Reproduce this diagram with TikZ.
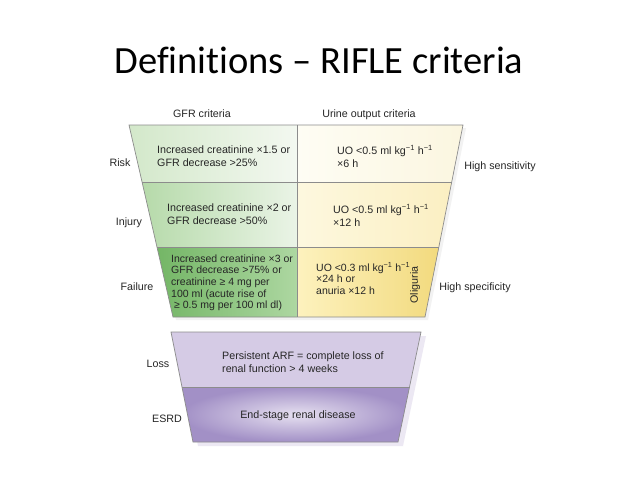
\documentclass[tikz,border=0pt]{standalone}
\usepackage{fontspec}
\setmainfont{Liberation Sans}
\newfontfamily\titlefont[Ligatures=NoCommon]{Carlito}
\usetikzlibrary{positioning}
\definecolor{edge}{HTML}{8C8C8C}
\definecolor{txt}{HTML}{262626}
\definecolor{rgL}{HTML}{D3E8CA}\definecolor{rgR}{HTML}{F3F8F0}
\definecolor{igL}{HTML}{B6DAAA}\definecolor{igR}{HTML}{EAF4E6}
\definecolor{fgL}{HTML}{74B666}\definecolor{fgR}{HTML}{ADD7A1}
\definecolor{ruL}{HTML}{FEFDF4}\definecolor{ruR}{HTML}{FBF6E0}
\definecolor{iuL}{HTML}{FDF8DF}\definecolor{iuR}{HTML}{FBEFC2}
\definecolor{fuL}{HTML}{FDF2BE}\definecolor{fuR}{HTML}{F2DA7E}
\definecolor{lsE}{HTML}{D5CBE5}\definecolor{lsM}{HTML}{ECE7F3}
\definecolor{esO}{HTML}{A290C6}\definecolor{esI}{HTML}{E6E0F0}
\tikzset{
  lbl/.style={font=\fontsize{10.7}{13}\selectfont, text=txt, inner sep=0pt},
  tight/.style={font=\fontsize{10.5}{11.7}\selectfont, text=txt, inner sep=0pt},
  cellline/.style={draw=edge, line width=0.7pt},
}
\begin{document}
\begin{tikzpicture}[x=1pt,y=-1pt]
\useasboundingbox (0,0) rectangle (638,479);
\fill[white] (0,0) rectangle (638,479);

% title
\node[font=\titlefont\fontsize{38.5}{40}\selectfont, anchor=base, inner sep=0pt] (title) at (319,73) {Definitions – RIFLE criteria};

% geometry upper funnel
\coordinate (A1) at (129,125); \coordinate (A2) at (297,125); \coordinate (A3) at (463,125);
\coordinate (B1) at (142,182); \coordinate (B2) at (297,182); \coordinate (B3) at (451.7,182);
\coordinate (C1) at (157,247); \coordinate (C2) at (297,247); \coordinate (C3) at (438.9,247);
\coordinate (D1) at (173,317); \coordinate (D2) at (297,317); \coordinate (D3) at (425,317);
% lower funnel
\coordinate (E1) at (171,332); \coordinate (E3) at (421,332);
\coordinate (F1) at (182,387); \coordinate (F3) at (409.5,387);
\coordinate (G1) at (193,442); \coordinate (G3) at (398,442);

% shadows
\fill[black!5] ([xshift=3pt,yshift=-3pt]A1) -- ([xshift=3pt,yshift=-3pt]A3) -- ([xshift=3pt,yshift=-3pt]D3) -- ([xshift=3pt,yshift=-3pt]D1) -- cycle;
\fill[lsE!45] ([xshift=5pt,yshift=-4pt]E1) -- ([xshift=5pt,yshift=-4pt]E3) -- ([xshift=5pt,yshift=-4pt]G3) -- ([xshift=5pt,yshift=-4pt]G1) -- cycle;

% cells
\shade[left color=rgL, right color=rgR] (A1) -- (A2) -- (B2) -- (B1) -- cycle;
\shade[left color=igL, right color=igR] (B1) -- (B2) -- (C2) -- (C1) -- cycle;
\shade[left color=fgL, right color=fgR] (C1) -- (C2) -- (D2) -- (D1) -- cycle;
\shade[left color=ruL, right color=ruR] (A2) -- (A3) -- (B3) -- (B2) -- cycle;
\shade[left color=iuL, right color=iuR] (B2) -- (B3) -- (C3) -- (C2) -- cycle;
\shade[left color=fuL, right color=fuR] (C2) -- (C3) -- (D3) -- (D2) -- cycle;
\shade[left color=lsE, middle color=lsM, right color=lsE] (E1) -- (E3) -- (F3) -- (F1) -- cycle;
\shade[inner color=esI, outer color=esO] (F1) -- (F3) -- (G3) -- (G1) -- cycle;

% outlines
\draw[cellline] (A1) -- (A3) -- (D3) -- (D1) -- cycle;
\draw[cellline] (B1) -- (B3);
\draw[cellline] (C1) -- (C3);
\draw[cellline] (A2) -- (D2);
\draw[cellline] (E1) -- (E3) -- (G3) -- (G1) -- cycle;
\draw[cellline] (F1) -- (F3);

% headers
\node[lbl, anchor=base] (gfrh) at (202,117) {GFR criteria};
\node[lbl, anchor=base] (uoh) at (369,117) {Urine output criteria};

% side labels
\node[lbl, anchor=base] (risk) at (120,166) {Risk};
\node[lbl, anchor=base] (injury) at (129,225) {Injury};
\node[lbl, anchor=base] (failure) at (137,290) {Failure};
\node[lbl, anchor=base] (loss) at (158,367) {Loss};
\node[lbl, anchor=base] (esrd) at (167,422) {ESRD};
\node[lbl, anchor=base] (hsens) at (500,169) {High sensitivity};
\node[lbl, anchor=base] (hspec) at (475,290) {High specificity};

% GFR cell texts
\node[lbl, anchor=base west] (rg) at (157,153) {\begin{tabular}[t]{@{}l@{}}Increased creatinine ×1.5 or\\GFR decrease >25\%\end{tabular}};
\node[lbl, anchor=base west] (ig) at (167,211) {\begin{tabular}[t]{@{}l@{}}Increased creatinine ×2 or\\GFR decrease >50\%\end{tabular}};
\node[tight, anchor=base west] (fg) at (171,262) {\begin{tabular}[t]{@{}l@{}}Increased creatinine ×3 or\\GFR decrease >75\% or\\creatinine ≥ 4 mg per\\100 ml (acute rise of\\\hspace{3pt}≥ 0.5 mg per 100 ml dl)\end{tabular}};

% UO cell texts
\node[lbl, anchor=base west] (ru) at (337,154) {\begin{tabular}[t]{@{}l@{}}UO <0.5 ml kg\textsuperscript{−1} h\textsuperscript{−1}\\×6 h\end{tabular}};
\node[lbl, anchor=base west] (iu) at (333,213) {\begin{tabular}[t]{@{}l@{}}UO <0.5 ml kg\textsuperscript{−1} h\textsuperscript{−1}\\×12 h\end{tabular}};
\node[tight, anchor=base west] (fu) at (316,271) {\begin{tabular}[t]{@{}l@{}}UO <0.3 ml kg\textsuperscript{−1} h\textsuperscript{−1}\\×24 h or\\anuria ×12 h\end{tabular}};
\node[lbl, rotate=90] (olig) at (415,285) {Oliguria};

% lower texts
\node[lbl, anchor=base west] (lt) at (222,359) {\begin{tabular}[t]{@{}l@{}}Persistent ARF = complete loss of\\renal function > 4 weeks\end{tabular}};
\node[lbl, anchor=base] (et) at (298,418) {End-stage renal disease};
\end{tikzpicture}
\end{document}
